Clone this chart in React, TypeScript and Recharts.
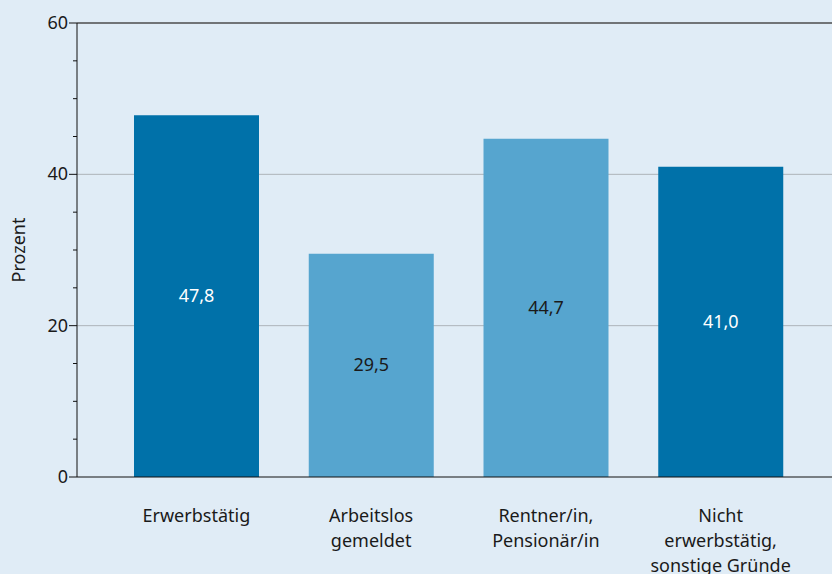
import { Bar, BarChart, CartesianGrid, Cell, LabelList, ReferenceLine, XAxis, YAxis } from "recharts";

const categories = ["Erwerbstätig", "Arbeitslos\ngemeldet", "Rentner/in,\nPensionär/in", "Nicht\nerwerbstätig,\nsonstige Gründe"];
const values = [47.8, 29.5, 44.7, 41.0];
const yTicks = [0, 5, 10, 15, 20, 25, 30, 35, 40, 45, 50, 55, 60];
const yLabelTicks = [0, 20, 40, 60];

const DARK = "#0071a9";
const LIGHT = "#56a5cf";
const barColors = [DARK, LIGHT, LIGHT, DARK];
const labelColors = ["#ffffff", "#1a1a1a", "#1a1a1a", "#ffffff"];
const FONT = "'Noto Sans', sans-serif";

const data = categories.map((name, i) => ({ name, value: values[i] }));

function YTick(props: any) {
  const { x, y, payload } = props;
  const major = yLabelTicks.includes(payload.value);
  const axisX = x + 9;
  return (
    <g>
      <line x1={axisX - (major ? 8 : 4)} x2={axisX} y1={y} y2={y} stroke="#111" strokeWidth={1} />
      {major && (
        <text x={x} y={y} dy={6} textAnchor="end" fill="#1a1a1a" fontSize={18} fontFamily={FONT}>
          {payload.value}
        </text>
      )}
    </g>
  );
}

function XTick(props: any) {
  const { x, y, payload } = props;
  const lines = String(payload.value).split("\n");
  return (
    <text x={x} y={y + 43} textAnchor="middle" fill="#1a1a1a" fontSize={18} fontFamily={FONT}>
      {lines.map((l, i) => (
        <tspan key={i} x={x} dy={i === 0 ? 0 : 25}>
          {l}
        </tspan>
      ))}
    </text>
  );
}

function ValueLabel(props: any) {
  const { x, y, width, height, index, value } = props;
  return (
    <text
      x={x + width / 2}
      y={y + height / 2}
      dy={6}
      textAnchor="middle"
      fill={labelColors[index]}
      fontSize={18}
      fontFamily={FONT}
    >
      {value.toFixed(1).replace(".", ",")}
    </text>
  );
}

export default function App() {
  return (
    <div style={{ width: 832, height: 574, background: "#e0ecf6" }}>
      <style>{`body{margin:0}`}</style>
      <BarChart width={832} height={574} data={data} margin={{ top: 23, right: 0, left: 0, bottom: 0 }}>
        <CartesianGrid horizontalValues={[20, 40]} vertical={false} stroke="#aeb4b9" />
        <ReferenceLine y={60} stroke="#4d4d4d" strokeWidth={1.5} />
        <XAxis
          dataKey="name"
          height={97}
          padding={{ left: 32, right: 24 }}
          tickLine={false}
          tickSize={0}
          axisLine={{ stroke: "#111" }}
          interval={0}
          tick={<XTick />}
        />
        <YAxis
          width={77}
          domain={[0, 60]}
          ticks={yTicks}
          interval={0}
          tickLine={false}
          tickSize={8}
          tickMargin={1}
          axisLine={{ stroke: "#111" }}
          tick={<YTick />}
          label={{
            content: () => (
              <text x={25} y={250} transform="rotate(-90 25 250)" textAnchor="middle" fill="#1a1a1a" fontSize={18} fontFamily={FONT}>
                Prozent
              </text>
            ),
          }}
        />
        <Bar dataKey="value" barSize={125} isAnimationActive={false}>
          {data.map((d, i) => (
            <Cell key={d.name} fill={barColors[i]} />
          ))}
          <LabelList dataKey="value" content={<ValueLabel />} />
        </Bar>
      </BarChart>
    </div>
  );
}
